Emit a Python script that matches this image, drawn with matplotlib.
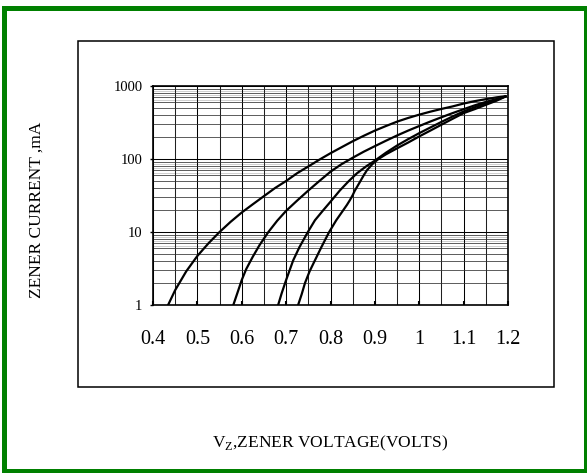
import numpy as np
import matplotlib
matplotlib.use("Agg")
import matplotlib.pyplot as plt
from matplotlib.patches import Rectangle
from matplotlib.ticker import FixedLocator, NullFormatter, LogLocator

plt.rcParams["font.family"] = ["Liberation Serif", "DejaVu Serif"]
plt.rcParams["mathtext.fontset"] = "custom"
plt.rcParams["mathtext.rm"] = "Liberation Serif"

# Zener forward curves (V, mA)
v1 = [0.434, 0.45, 0.475, 0.50, 0.525, 0.55, 0.575, 0.60, 0.625, 0.65, 0.675, 0.70, 0.725,
      0.75, 0.775, 0.80, 0.825, 0.85, 0.875, 0.90, 0.925, 0.95, 0.975, 1.0, 1.025, 1.05,
      1.075, 1.10, 1.125, 1.15, 1.175, 1.195]
i1 = [1, 1.6, 2.9, 4.7, 7.0, 10, 13.8, 18.5, 24, 31, 40, 50, 64,
      79, 98, 120, 145, 175, 208, 245, 283, 325, 365, 405, 445, 485,
      525, 575, 620, 660, 700, 725]

v2 = [0.581, 0.59, 0.60, 0.61, 0.625, 0.64, 0.66, 0.68, 0.70, 0.725, 0.75, 0.775, 0.80,
      0.825, 0.85, 0.875, 0.90, 0.925, 0.95, 0.975, 1.0, 1.025, 1.05, 1.075, 1.10, 1.125,
      1.15, 1.175, 1.195]
i2 = [1, 1.45, 2.2, 3.1, 4.6, 6.6, 10, 14.3, 19.5, 27, 37, 50, 67,
      85, 104, 126, 150, 178, 210, 245, 283, 326, 373, 425, 481, 543,
      605, 665, 720]

v3 = [0.682, 0.69, 0.70, 0.716, 0.73, 0.749, 0.765, 0.784, 0.80, 0.821, 0.84, 0.86, 0.88,
      0.90, 0.925, 0.95, 0.975, 1.0, 1.025, 1.05, 1.075, 1.10, 1.125, 1.15, 1.175, 1.195]
i3 = [1, 1.45, 2.2, 4.1, 6.2, 10, 14.5, 20, 26, 37, 49, 64, 79,
      95, 122, 153, 187, 226, 270, 322, 382, 448, 512, 580, 652, 720]

v4 = [0.727, 0.735, 0.7425, 0.753, 0.765, 0.78, 0.797, 0.813, 0.829, 0.837, 0.844, 0.85,
      0.855, 0.865, 0.875, 0.882, 0.895, 0.908, 0.925, 0.949, 0.975, 1.0, 1.025, 1.05,
      1.075, 1.10, 1.125, 1.15, 1.175, 1.195]
i4 = [1, 1.4, 2, 2.9, 4.1, 6.3, 10, 14.5, 20, 23.5, 27.5, 32,
      37, 47, 60, 70, 86, 100, 116, 139, 168, 204, 245, 295,
      355, 425, 482, 552, 632, 720]

x_ticks = [0.4, 0.5, 0.6, 0.7, 0.8, 0.9, 1.0, 1.1, 1.2]
x_labels = ["0.4", "0.5", "0.6", "0.7", "0.8", "0.9", "1", "1.1", "1.2"]
y_ticks = [1, 10, 100, 1000]
y_labels = ["1", "10", "100", "1000"]

W, H = 587, 473
fig = plt.figure(figsize=(W / 100, H / 100), dpi=100)

# green outer frame and black inner box
fig.patches.append(Rectangle((4 / W, 2 / H), 582 / W, 463 / H, transform=fig.transFigure,
                             fill=False, ec="#008000", lw=3.6))
fig.patches.append(Rectangle((78 / W, 1 - 387 / H), 476 / W, 346 / H, transform=fig.transFigure,
                             fill=False, ec="black", lw=1.1))

ax = fig.add_axes([153 / W, 1 - 305 / H, 355 / W, 219 / H])
ax.set_yscale("log")
ax.set_xlim(0.4, 1.2)
ax.set_ylim(1, 1000)

# grid
ax.xaxis.set_minor_locator(FixedLocator(np.arange(0.45, 1.2, 0.1)))
ax.yaxis.set_minor_locator(LogLocator(base=10, subs=[2, 3, 4, 5, 6, 7, 8, 9]))
ax.yaxis.set_minor_formatter(NullFormatter())
ax.grid(True, which="major", color="black", lw=0.75)
ax.grid(True, which="minor", axis="x", color="#202020", lw=0.75)
ax.grid(True, which="minor", axis="y", color="#303030", lw=0.55)
for dec in [1, 10, 100]:
    for s in [6.5, 7.5, 8.5]:
        ax.axhline(dec * s, color="#c8c8c8", lw=0.6, zorder=0.5)

for v, i in [(v1, i1), (v2, i2), (v3, i3), (v4, i4)]:
    ax.plot(v, i, color="black", lw=1.6, solid_capstyle="round", solid_joinstyle="round",
            zorder=3)

ax.set_xticks(x_ticks)
ax.set_xticklabels(x_labels)
ax.set_yticks(y_ticks)
ax.set_yticklabels(y_labels)
ax.tick_params(axis="x", which="major", direction="in", length=3, width=1.5,
               labelsize=14.5, pad=18)
ax.tick_params(axis="y", which="major", direction="out", length=2.5, width=1,
               labelsize=10.5, pad=5)
ax.tick_params(which="minor", length=0)
for sp in ax.spines.values():
    sp.set_linewidth(1.2)

fig.text(37 / W, 1 - 210 / H, "ZENER CURRENT ,mA", rotation=90, ha="center", va="center",
         fontsize=12.5)
fig.text(330 / W, 1 - 443 / H, r"V$_\mathregular{Z}$,ZENER VOLTAGE(VOLTS)", ha="center",
         va="center", fontsize=12.5)

fig.savefig("out.png", dpi=100)
